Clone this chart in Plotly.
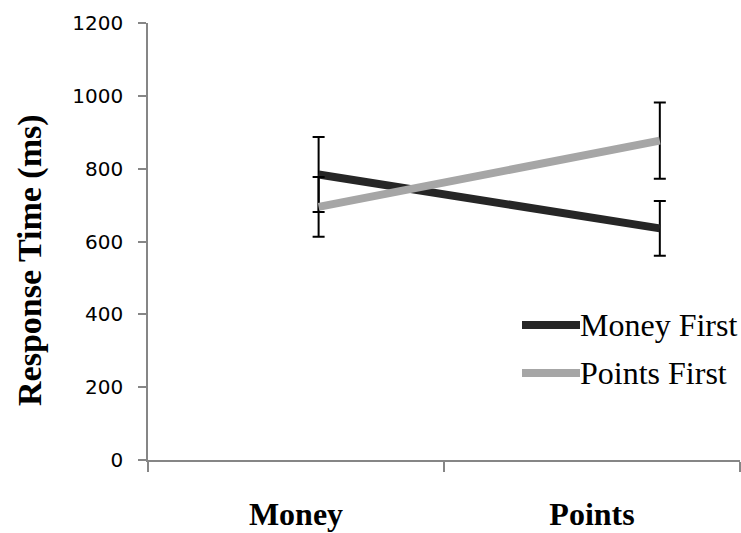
import plotly.graph_objects as go

# Conditions and series
conditions = ["Money", "Points"]
series_names = ["Money First", "Points First"]
money_first_rt = [784, 636]
money_first_err = [103, 75]
points_first_rt = [695, 877]
points_first_err = [82, 105]
y_ticks = [0, 200, 400, 600, 800, 1000, 1200]

colors = ["#262626", "#a6a6a6"]
serif = "Liberation Serif, Times New Roman, serif"
sans = "DejaVu Sans, Calibri, sans-serif"
axis_grey = "#868686"

fig = go.Figure()
for name, vals, errs, col in [
    (series_names[0], money_first_rt, money_first_err, colors[0]),
    (series_names[1], points_first_rt, points_first_err, colors[1]),
]:
    fig.add_trace(go.Scatter(
        x=conditions, y=vals, name=name, mode="lines",
        line=dict(color=col, width=8),
        error_y=dict(type="data", array=errs, visible=True,
                     color="black", thickness=2, width=6),
        xaxis="x", yaxis="y", showlegend=False,
    ))

# Empty trace so the category-label axis gets drawn
fig.add_trace(go.Scatter(x=[], y=[], xaxis="x2", yaxis="y",
                         showlegend=False, hoverinfo="skip"))

fig.update_layout(
    width=741, height=533,
    margin=dict(l=148, r=1, t=23, b=73),
    paper_bgcolor="white", plot_bgcolor="white",
    showlegend=False,
    xaxis=dict(type="category", range=[-0.5, 1.235], visible=False,
               fixedrange=True, automargin=False),
    xaxis2=dict(overlaying="x", anchor="y", side="bottom", range=[0, 2],
                automargin=False,
                showline=True, linecolor=axis_grey, linewidth=1.5,
                showgrid=False, zeroline=False,
                tickvals=[0.5, 1.5],
                ticktext=[f"<b>{c}</b>" for c in conditions], ticks="",
                ticklabelstandoff=25,
                tickfont=dict(family=serif, size=32, color="black"),
                minor=dict(tickvals=[0, 1, 2], ticks="outside", ticklen=10,
                           tickcolor=axis_grey, tickwidth=1.5, showgrid=False)),
    yaxis=dict(range=[0, 1200], tickvals=y_ticks, showgrid=False,
               automargin=False,
               zeroline=False, showline=True, linecolor=axis_grey,
               linewidth=1.5, ticks="outside", ticklen=8,
               tickcolor=axis_grey, tickwidth=1.5, ticklabelstandoff=11,
               tickfont=dict(family=sans, size=20, color="black")),
)

# Y-axis title
fig.add_annotation(text="<b>Response Time (ms)</b>", textangle=-90,
                   xref="paper", yref="paper", x=0, y=0.4577,
                   xanchor="center", yanchor="middle", xshift=-118,
                   showarrow=False,
                   font=dict(family=serif, size=34, color="black"))

# Legend: sample strokes and labels
legend_y = [0.309, 0.199]
for name, col, ly in zip(series_names, colors, legend_y):
    fig.add_shape(type="line", xref="paper", yref="paper",
                  x0=(522 - 148) / 592, x1=(580 - 148) / 592, y0=ly, y1=ly,
                  line=dict(color=col, width=8))
    fig.add_annotation(text=name, xref="paper", yref="paper",
                       x=(580 - 148) / 592, y=ly, xanchor="left",
                       yanchor="middle", showarrow=False, xshift=-2,
                       font=dict(family=serif, size=32, color="black"))

fig.write_html("out.html")
